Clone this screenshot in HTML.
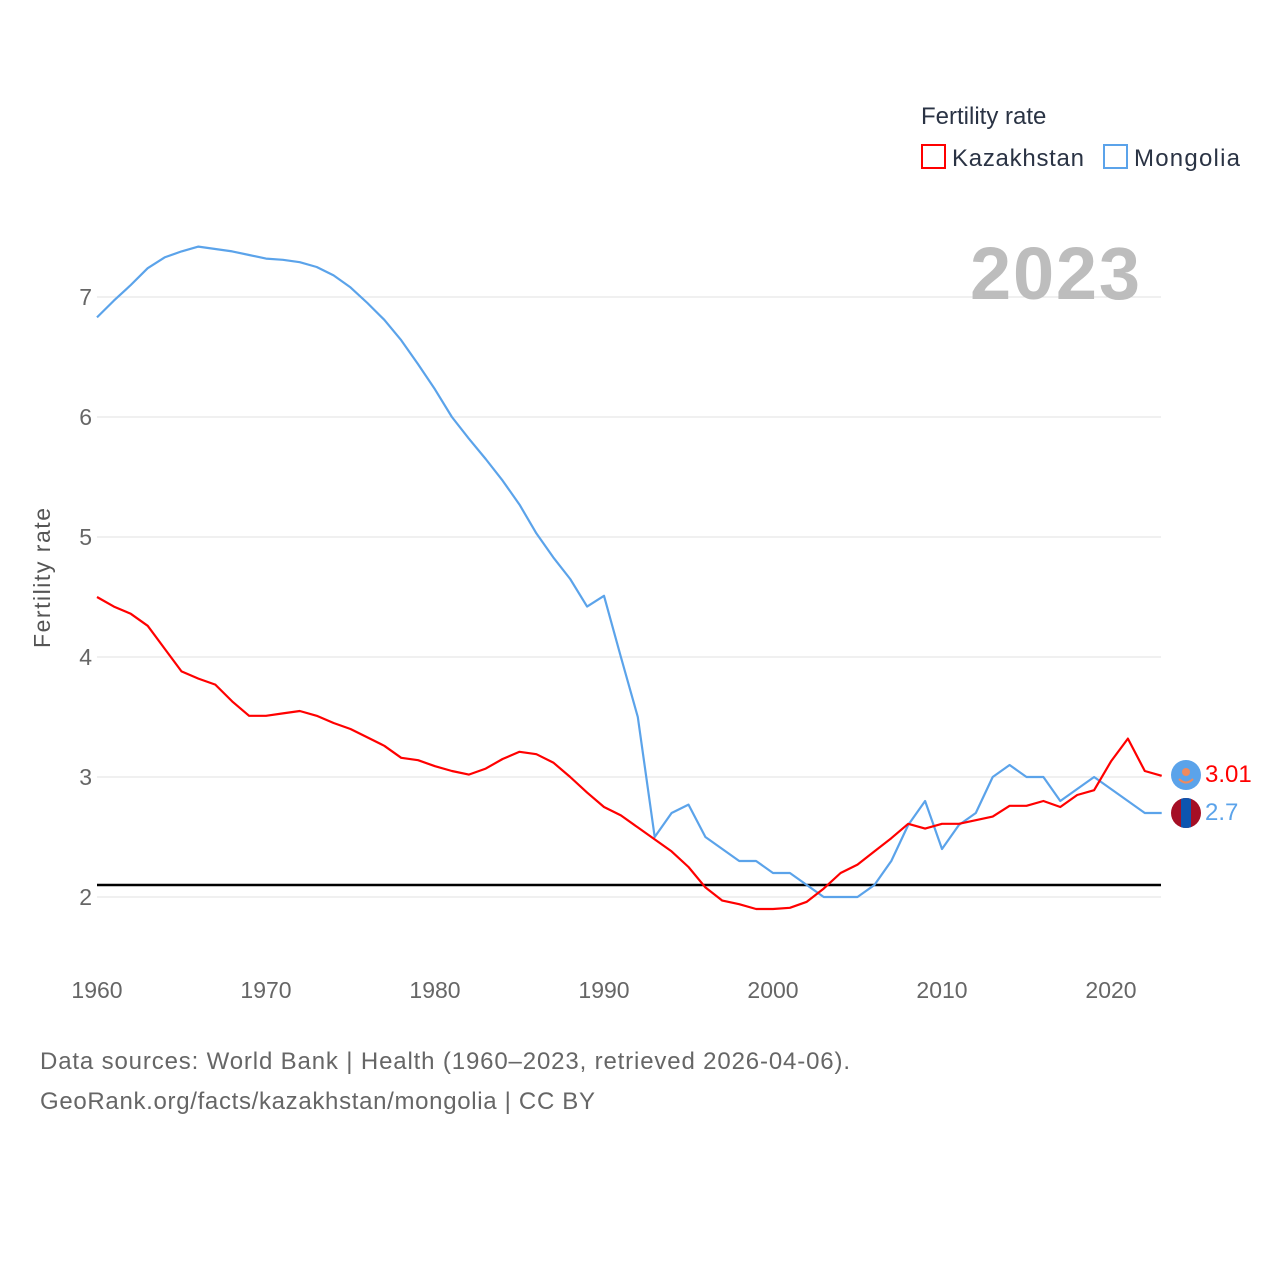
<!DOCTYPE html>
<html><head><meta charset="utf-8"><style>
html,body{margin:0;padding:0;background:#fff;}
svg{display:block;font-family:"Liberation Sans",sans-serif;}
</style></head><body>
<svg id="chart" width="1280" height="1280" viewBox="0 0 1280 1280" xmlns="http://www.w3.org/2000/svg">
<g id="grid"></g>
<g id="yticks"></g>
<g id="xticks"></g>
<text x="50" y="578" transform="rotate(-90 50 578)" text-anchor="middle" font-size="23" fill="#555" textLength="140">Fertility rate</text>
<text x="970" y="299" font-size="74" font-weight="bold" fill="#bdbdbd" textLength="170">2023</text>
<line id="repl" x1="97" x2="1161" stroke="#000" stroke-width="2.5"/>
<g id="series"></g>
<g>
<text x="921" y="124" font-size="24" fill="#2a3344">Fertility rate</text>
<rect x="922" y="145" width="23" height="23" fill="none" stroke="#ff0000" stroke-width="2"/>
<text x="952" y="166" font-size="24" fill="#2a3344" textLength="132">Kazakhstan</text>
<rect x="1104" y="145" width="23" height="23" fill="none" stroke="#5ba3ea" stroke-width="2"/>
<text x="1134" y="166" font-size="24" fill="#2a3344" textLength="106">Mongolia</text>
</g>
<g>
<circle cx="1186" cy="775" r="15" fill="#5ba3ea"/>
<circle cx="1186" cy="772" r="4" fill="#f08a5d"/>
<path d="M1179 779 Q1186 786 1193 779" stroke="#f08a5d" stroke-width="2" fill="none"/>
</g>
<g>
<clipPath id="mc"><circle cx="1186" cy="813" r="15"/></clipPath>
<g clip-path="url(#mc)"><rect x="1171" y="798" width="30" height="30" fill="#a50f25"/><rect x="1181" y="798" width="10" height="30" fill="#0d55b0"/></g>
</g>
<text x="1205" y="782" font-size="24" fill="#ff0000">3.01</text>
<text x="1205" y="820" font-size="24" fill="#5ba3ea">2.7</text>
<text x="40" y="1069" font-size="24" fill="#666" textLength="810">Data sources: World Bank | Health (1960–2023, retrieved 2026-04-06).</text>
<text x="40" y="1109" font-size="24" fill="#666" textLength="555">GeoRank.org/facts/kazakhstan/mongolia | CC BY</text>
</svg>
<script>
const years=[];for(let y=1960;y<=2023;y++)years.push(y);
const kazakhstan=[4.50,4.42,4.36,4.26,4.07,3.88,3.82,3.77,3.63,3.51,3.51,3.53,3.55,3.51,3.45,3.40,3.33,3.26,3.16,3.14,3.09,3.05,3.02,3.07,3.15,3.21,3.19,3.12,3.00,2.87,2.75,2.68,2.58,2.48,2.38,2.25,2.08,1.97,1.94,1.90,1.90,1.91,1.96,2.07,2.20,2.27,2.38,2.49,2.61,2.57,2.61,2.61,2.64,2.67,2.76,2.76,2.80,2.75,2.85,2.89,3.13,3.32,3.05,3.01];
const mongolia=[6.83,6.97,7.10,7.24,7.33,7.38,7.42,7.40,7.38,7.35,7.32,7.31,7.29,7.25,7.18,7.08,6.95,6.81,6.64,6.44,6.23,6.00,5.82,5.65,5.47,5.27,5.03,4.83,4.65,4.42,4.51,4.00,3.50,2.50,2.70,2.77,2.50,2.40,2.30,2.30,2.20,2.20,2.10,2.00,2.00,2.00,2.10,2.30,2.60,2.80,2.40,2.60,2.70,3.00,3.10,3.00,3.00,2.80,2.90,3.00,2.90,2.80,2.70,2.70];
const yTicks=[2,3,4,5,6,7];
const xTicks=[1960,1970,1980,1990,2000,2010,2020];
const replacement=2.1;
const NS='http://www.w3.org/2000/svg';
function xS(y){return 97+(y-1960)*(1111-97)/60;}
function yS(v){return 897-(v-2)*120;}
const grid=document.getElementById('grid'),yt=document.getElementById('yticks'),xt=document.getElementById('xticks');
yTicks.forEach(v=>{
 const l=document.createElementNS(NS,'line');
 
 
 l.setAttribute('x1',97);l.setAttribute('x2',1161);l.setAttribute('y1',yS(v));l.setAttribute('y2',yS(v));
 l.setAttribute('stroke','#e2e2e2');l.setAttribute('stroke-width','1');grid.appendChild(l);
 const t=document.createElementNS(NS,'text');
 
 
 t.setAttribute('x',92);t.setAttribute('y',yS(v)+8);t.setAttribute('text-anchor','end');
 t.setAttribute('font-size','23');t.setAttribute('fill','#666');t.textContent=v;yt.appendChild(t);
});
xTicks.forEach(v=>{
 const t=document.createElementNS(NS,'text');
 
 
 t.setAttribute('x',xS(v));t.setAttribute('y',998);t.setAttribute('text-anchor','middle');
 t.setAttribute('font-size','23');t.setAttribute('fill','#666');t.textContent=v;xt.appendChild(t);
});
const r=document.getElementById('repl');r.setAttribute('y1',yS(replacement));r.setAttribute('y2',yS(replacement));
const sg=document.getElementById('series');
function draw(vals,color,name){
 const p=document.createElementNS(NS,'polyline');
 
 
 p.setAttribute('points',vals.map((v,i)=>xS(years[i])+','+yS(v)).join(' '));
 p.setAttribute('fill','none');p.setAttribute('stroke',color);p.setAttribute('stroke-width','2.2');
 p.setAttribute('stroke-linejoin','round');sg.appendChild(p);
}
draw(mongolia,'#5ba3ea','mongolia-line');
draw(kazakhstan,'#ff0000','kazakhstan-line');
</script>
</body></html>
